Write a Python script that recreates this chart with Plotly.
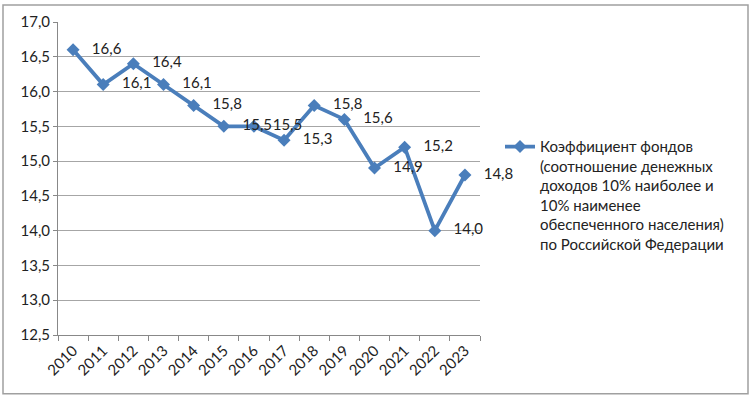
import plotly.graph_objects as go

years = ["2010", "2011", "2012", "2013", "2014", "2015", "2016", "2017",
         "2018", "2019", "2020", "2021", "2022", "2023"]
values = [16.6, 16.1, 16.4, 16.1, 15.8, 15.5, 15.5, 15.3, 15.8, 15.6, 14.9, 15.2, 14.0, 14.8]
series_name = ("Коэффициент фондов<br>(соотношение денежных<br>доходов 10% наиболее и<br>"
               "10% наименее<br>обеспеченного населения)<br>по Российской Федерации")
y_ticks = [12.5, 13.0, 13.5, 14.0, 14.5, 15.0, 15.5, 16.0, 16.5, 17.0]

labels = ["   " + f"{v:.1f}".replace(".", ",") for v in values]
color = "#4A7EBB"
font = "Lato, 'Open Sans', sans-serif"
fs = 15

fig = go.Figure()
fig.add_trace(go.Scatter(
    x=years, y=values, mode="lines+markers+text",
    name=series_name,
    line=dict(color=color, width=3.8),
    marker=dict(symbol="diamond", size=10, color=color),
    text=labels, textposition="middle right",
    textfont=dict(size=fs, color="#222222", family=font),
    cliponaxis=False,
))

W, H = 753, 399
L, R, T, B = 58, 480, 20, 335
pw, ph = R - L, B - T

def px_x(p):
    return (p - L) / pw

def px_y(p):
    return (B - p) / ph

fig.update_layout(
    width=W, height=H,
    margin=dict(l=L, r=W - R, t=T, b=H - B),
    paper_bgcolor="white", plot_bgcolor="white",
    font=dict(family=font, size=fs, color="#222222"),
    separators=", ",
    showlegend=True,
    legend=dict(x=px_x(500), y=px_y(129), xanchor="left", yanchor="top",
                valign="top", tracegroupgap=0,
                font=dict(size=fs, family=font, color="#222222"),
                bgcolor="rgba(0,0,0,0)"),
    xaxis=dict(type="category", range=[-0.5, 13.5], showgrid=False,
               showline=True, linecolor="#888888", linewidth=1,
               ticks="outside", tickson="boundaries", ticklen=5, tickcolor="#888888",
               tickangle=-45, tickfont=dict(size=fs, family=font)),
    yaxis=dict(range=[12.5, 17.0], tickvals=y_ticks,
               ticktext=[f"{v:.1f}".replace(".", ",") for v in y_ticks],
               showgrid=True, gridcolor="#A6A6A6", gridwidth=1,
               showline=True, linecolor="#888888", linewidth=1,
               ticks="outside", ticklen=4, tickcolor="#888888",
               zeroline=False, tickfont=dict(size=fs, family=font)),
    shapes=[dict(type="rect", xref="paper", yref="paper",
                 x0=px_x(3), x1=px_x(748), y0=px_y(394), y1=px_y(3),
                 line=dict(color="#A0A0A0", width=1.5), layer="above")],
)

fig.write_html("out.html",
               config={"displayModeBar": False},
               post_script="document.body.style.margin='0';document.body.style.overflow='hidden';")
